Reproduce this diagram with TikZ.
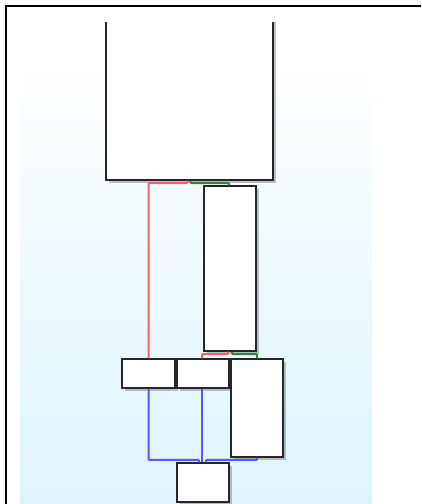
\documentclass[tikz,border=0pt]{standalone}
\usepackage{xcolor}
\usepackage{tikz}
\usetikzlibrary{calc, shadows}

\definecolor{edgered}{RGB}{240,100,105}
\definecolor{edgegreen}{RGB}{40,135,60}
\definecolor{edgeblue}{RGB}{85,85,250}
\definecolor{bgblue}{RGB}{222,244,252}

\tikzset{
    blockbox/.style={draw=black!85, fill=white, line width=1.3pt, inner sep=0pt,
        drop shadow={shadow xshift=3pt, shadow yshift=-3pt, opacity=0.4, fill=black!60}},
    edgeline/.style={line width=2pt, rounded corners=1pt}
}

\begin{document}
\begin{tikzpicture}[
    x=1pt, y=-1pt,
    line width=0.9pt
]

% Page area
\useasboundingbox (0,0) rectangle (421,504);
\fill[white] (0,0) rectangle (421,504);

% Background shading
\shade[top color=white, bottom color=bgblue, draw=none] (20,52) rectangle (372,504);

% Outer frame
\draw[black, line width=2.5pt] (6,504) -- (6,6) -- (421,6);

\begin{scope}
\clip (8,22) rectangle (421,504);

% Blocks
\node[blockbox, minimum width=167pt, minimum height=170pt] (top) at (189.5,95) {};
\node[blockbox, minimum width=52pt, minimum height=165pt] (mid) at (230,268.5) {};
\node[blockbox, minimum width=53pt, minimum height=29pt] (left) at (148.5,373.5) {};
\node[blockbox, minimum width=52pt, minimum height=29pt] (center) at (203,373.5) {};
\node[blockbox, minimum width=52pt, minimum height=98pt] (right) at (257,408) {};
\node[blockbox, minimum width=52pt, minimum height=39pt] (bottom) at (203,482.5) {};

% Branches out of the top block
\draw[edgeline, edgered] ($(top.south)+(-2,0)$) -- ++(0,2.5) -| (left.north);
\draw[edgeline, edgegreen] ($(top.south)+(1,0)$) -- ++(0,2.5) -| ($(mid.north)+(-1,0)$);

% Branches out of the middle block
\draw[edgeline, edgered] ($(mid.south)+(-2,0)$) -- ++(0,2.5) -| ($(center.north)+(-1,0)$);
\draw[edgeline, edgegreen] ($(mid.south)+(2,0)$) -- ++(0,2.5) -| (right.north);

% Joins into the bottom block
\draw[edgeline, edgeblue] (left.south) |- ($(bottom.north)+(-4,-2.5)$) -- ($(bottom.north)+(-4,0)$);
\draw[edgeline, edgeblue] ($(center.south)+(-1,0)$) -- ($(bottom.north)+(-1,0)$);
\draw[edgeline, edgeblue] (right.south) |- ($(bottom.north)+(3,-2.5)$) -- ($(bottom.north)+(3,0)$);

\end{scope}

\end{tikzpicture}
\end{document}
